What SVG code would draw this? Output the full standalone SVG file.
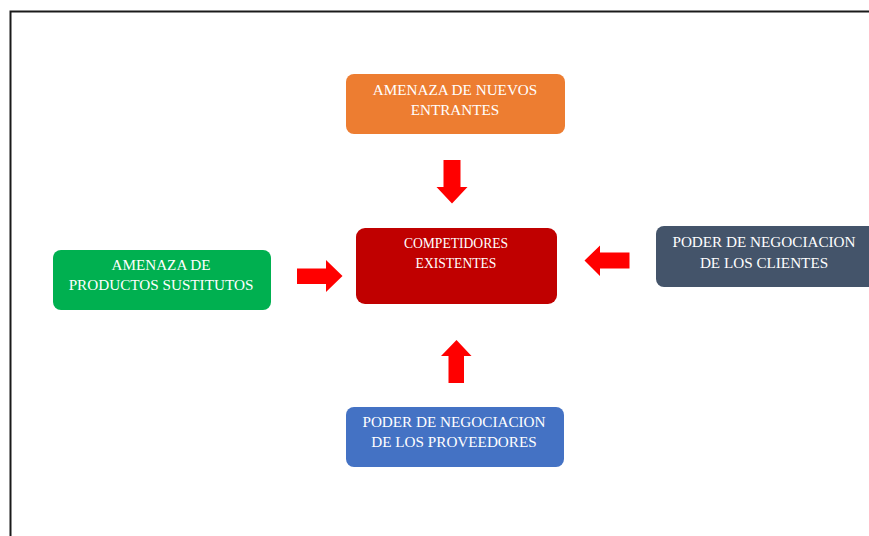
<svg xmlns="http://www.w3.org/2000/svg" width="869" height="536" viewBox="0 0 869 536">
<style>
.box{stroke:none}
.t{font-family:"Liberation Serif","Times New Roman",serif;font-size:15.2px;fill:#ffffff;text-anchor:middle}
.ts{font-size:13.6px}
.arr{fill:#ff0000}
</style>
<rect x="0" y="0" width="869" height="536" fill="#ffffff"/>
<path d="M10.5 536 V11.5 H869" fill="none" stroke="#1a1a1a" stroke-width="2"/>
<g id="nuevos">
<rect class="box" x="346" y="74" width="219" height="60" rx="8" fill="#ed7d31"/>
<text class="t" x="455" y="95">AMENAZA DE NUEVOS</text>
<text class="t" x="455" y="115">ENTRANTES</text>
</g>
<g id="competidores">
<rect class="box" x="356" y="228" width="201" height="76" rx="9" fill="#c00000"/>
<text class="t ts" x="456" y="248">COMPETIDORES</text>
<text class="t ts" x="456" y="268">EXISTENTES</text>
</g>
<g id="clientes">
<rect class="box" x="656" y="226" width="225" height="61" rx="8" fill="#44546a"/>
<text class="t" x="764" y="247">PODER DE NEGOCIACION</text>
<text class="t" x="764" y="268">DE LOS CLIENTES</text>
</g>
<g id="sustitutos">
<rect class="box" x="53" y="250" width="218" height="60" rx="8" fill="#00b050"/>
<text class="t" x="161" y="270">AMENAZA DE</text>
<text class="t" x="161" y="290">PRODUCTOS SUSTITUTOS</text>
</g>
<g id="proveedores">
<rect class="box" x="346" y="407" width="218" height="60" rx="8" fill="#4472c4"/>
<text class="t" x="454" y="427">PODER DE NEGOCIACION</text>
<text class="t" x="454" y="447">DE LOS PROVEEDORES</text>
</g>
<g id="connectors">
<polygon class="arr" points="443.5,160 460.5,160 460.5,187 467.5,187 452,203.5 436.5,187 443.5,187"/>
<polygon class="arr" points="448.5,383 464,383 464,356 471.5,356 456.5,340 441,356 448.5,356"/>
<polygon class="arr" points="297,268.5 326,268.5 326,260 342.5,276 326,292 326,284 297,284"/>
<polygon class="arr" points="629.5,252.5 600,252.5 600,245.5 584.5,260.5 600,276 600,268.5 629.5,268.5"/>
</g>
</svg>
